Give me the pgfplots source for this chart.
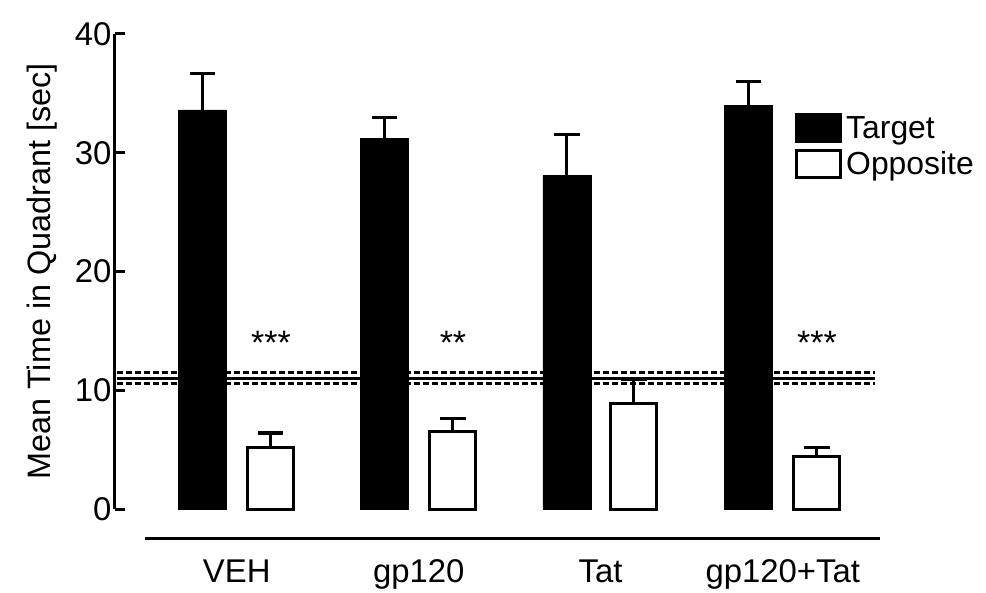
\documentclass[border=0pt]{standalone}
\usepackage{pgfplots}
\pgfplotsset{compat=1.18}
\usepackage{fontspec}
\setmainfont{Liberation Sans}
\begin{document}
\begin{tikzpicture}
\begin{axis}[
  x=1bp, y=11.875bp,
  xmin=115, xmax=880, ymin=0, ymax=40,
  enlargelimits=false, clip=false,
  axis y line=left, axis x line=bottom,
  axis line style={-, line width=3bp},
  x axis line style={draw=none},
  ytick={0,10,20,30,40},
  ytick style={line width=3bp, black},
  tick align=inside, major tick length=10bp,
  xtick={236.75,418.75,600.5,782.75},
  xticklabels={VEH,gp120,Tat,gp120+Tat},
  xtick style={draw=none},
  xticklabel style={anchor=base, yshift=-73bp},
  /pgf/number format/assume math mode=true,
  tick label style={font=\fontsize{33}{38}\selectfont},
  ylabel={Mean Time in Quadrant [sec]},
  ylabel style={at={([xshift=-73bp]axis description cs:0,0.5)}, anchor=center, font=\fontsize{32.5}{38}\selectfont},
  legend style={draw=none, fill=none, at={(axis cs:795,33.4)}, anchor=north west,
    font=\fontsize{32}{37}\selectfont, row sep=6bp, inner sep=0pt,
    nodes={inner sep=1bp}},
  legend cell align=left,
  legend image code/.code={\draw[#1, line width=3bp] (0bp,-13bp) rectangle (44bp,14bp);},
]
\coordinate (O) at (axis cs:115,0);
% reference lines
\addplot[forget plot, black, line width=3bp] coordinates {(117,11.0) (875,11.0)};
\addplot[forget plot, black, line width=3bp, dash pattern=on 6bp off 3bp] coordinates {(117,11.47) (875,11.47)};
\addplot[forget plot, black, line width=3bp, dash pattern=on 6bp off 3bp] coordinates {(117,10.53) (875,10.53)};
% target
\addplot[ybar, bar width=48, bar shift=0, fill=black, draw=black,
  error bars/.cd, y dir=plus, y explicit,
  error bar style={line width=3bp, black},
  error mark options={rotate=90, line width=3bp, mark size=12.5bp, black}]
  coordinates {(202.5,33.6) +- (0,3.1) (384.5,31.2) +- (0,1.8) (567,28.1) +- (0,3.4) (748.5,34.0) +- (0,2.0)};
\addlegendentry{\hspace{3bp}Target}
% opposite
\addplot[ybar, bar width=46, bar shift=0, fill=white, draw=black, line width=3bp,
  error bars/.cd, y dir=plus, y explicit,
  error bar style={line width=3bp, black},
  error mark options={rotate=90, line width=3bp, mark size=12.5bp, black}]
  coordinates {(271,5.2) +- (0,1.2) (453,6.5) +- (0,1.1) (634,8.9) +- (0,2.0) (817,4.4) +- (0,0.8)};
\addlegendentry{\hspace{3bp}Opposite}
\node[font=\fontsize{34}{38}\selectfont] at (axis cs:271,14.0) {***};
\node[font=\fontsize{34}{38}\selectfont] at (axis cs:453,14.0) {**};
\node[font=\fontsize{34}{38}\selectfont] at (axis cs:817,14.0) {***};
\draw[line width=3bp] (axis cs:145,-2.5) -- (axis cs:880,-2.5);
\end{axis}
\pgfresetboundingbox
\path (O) ++(-115bp,-84bp) rectangle ++(986bp,593bp);
\end{tikzpicture}
\end{document}
